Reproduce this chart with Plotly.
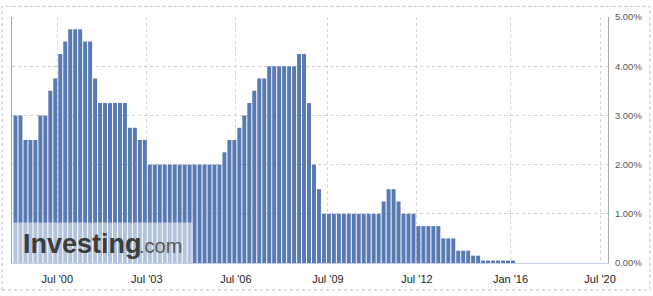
import plotly.graph_objects as go

# ECB main refinancing rate (%), one bar per period
rates = [
    3.0, 3.0,
    2.5, 2.5, 2.5,
    3.0, 3.0,
    3.5, 3.75, 4.25, 4.5,
    4.75, 4.75, 4.75,
    4.5, 4.5,
    3.75,
    3.25, 3.25, 3.25, 3.25, 3.25, 3.25,
    2.75, 2.75,
    2.5, 2.5,
    2.0, 2.0, 2.0, 2.0, 2.0, 2.0, 2.0, 2.0, 2.0, 2.0, 2.0, 2.0, 2.0, 2.0, 2.0,
    2.25,
    2.5, 2.5,
    2.75, 3.0, 3.25, 3.5,
    3.75, 3.75,
    4.0, 4.0, 4.0, 4.0, 4.0, 4.0,
    4.25, 4.25,
    3.25, 2.0, 1.5,
    1.0, 1.0, 1.0, 1.0, 1.0, 1.0, 1.0, 1.0, 1.0, 1.0, 1.0, 1.0,
    1.25, 1.5, 1.5, 1.25,
    1.0, 1.0, 1.0,
    0.75, 0.75, 0.75, 0.75, 0.75,
    0.5, 0.5, 0.5,
    0.25, 0.25, 0.25,
    0.15, 0.15,
    0.05, 0.05, 0.05, 0.05, 0.05, 0.05, 0.05,
    0.0, 0.0, 0.0, 0.0, 0.0, 0.0, 0.0, 0.0, 0.0,
    0.0, 0.0, 0.0, 0.0, 0.0, 0.0, 0.0, 0.0, 0.0,
]
periods = list(range(len(rates)))

# x tick labels and their positions on the ordinal period scale
tick_labels = ["Jul '00", "Jul '03", "Jul '06", "Jul '09", "Jul '12", "Jan '16", "Jul '20"]
tick_pos = [8.4, 26.4, 44.3, 62.8, 80.7, 99.5, 117.5]

y_ticks = [0, 1, 2, 3, 4, 5]
y_tick_labels = [f"{v:.2f}%" for v in y_ticks]

W, H = 653, 296
ML, MR, MT, MB = 11, 44, 12, 29
PW, PH = W - ML - MR, H - MT - MB

def px_x(p):
    return (p - ML) / PW

def px_y(p):
    return (H - MB - p) / PH

fig = go.Figure()
fig.add_trace(go.Bar(
    x=periods, y=rates,
    marker=dict(color="#587ab2", line=dict(width=0)),
    width=0.8,
    hoverinfo="skip",
))

fig.update_layout(
    width=W, height=H,
    margin=dict(l=ML, r=MR, t=MT, b=MB, pad=0),
    paper_bgcolor="white", plot_bgcolor="white",
    showlegend=False,
    font=dict(family="Arial, Liberation Sans, sans-serif", color="#333"),
    xaxis=dict(
        range=[-0.7, 119.1],
        tickmode="array", tickvals=tick_pos, ticktext=tick_labels,
        showgrid=True, gridcolor="#d4d4d4", griddash="dot", gridwidth=1,
        showline=True, linecolor="#c3d0e6", linewidth=1,
        ticks="", tickfont=dict(size=11, color="#222"),
        ticklabelstandoff=6,
        zeroline=False, fixedrange=True,
    ),
    yaxis=dict(
        range=[0, 5], side="right",
        tickmode="array", tickvals=y_ticks, ticktext=y_tick_labels,
        showgrid=True, gridcolor="#cfcfcf", griddash="dot", gridwidth=1,
        showline=True, mirror=True, linecolor="#a8aaa8", linewidth=1,
        ticks="", tickfont=dict(size=9.5, color="#555"),
        ticklabelstandoff=4,
        zeroline=False, fixedrange=True,
    ),
    shapes=[
        # watermark backdrop
        dict(type="rect", xref="paper", yref="paper",
             x0=px_x(12), x1=px_x(192), y0=0, y1=px_y(225),
             fillcolor="rgba(255,255,255,0.55)", line=dict(width=0), layer="above"),
        # outer dotted frame
        dict(type="rect", xref="paper", yref="paper",
             x0=px_x(1), x1=px_x(651), y0=px_y(295), y1=px_y(1),
             fillcolor="rgba(0,0,0,0)", line=dict(color="#bdbdbd", width=1, dash="dot"),
             layer="above"),
    ],
    annotations=[
        dict(xref="paper", yref="paper", x=px_x(20), y=px_y(247), xanchor="left", yanchor="middle",
             text="<b>Investing</b>", showarrow=False,
             font=dict(family="Arial, Liberation Sans, sans-serif", size=27, color="#3c3c3c")),
        dict(xref="paper", yref="paper", x=px_x(136), y=px_y(249), xanchor="left", yanchor="middle",
             text=".com", showarrow=False,
             font=dict(family="Arial, Liberation Sans, sans-serif", size=20, color="#555")),
    ],
)

fig.write_html("out.html", config={"displayModeBar": False})
